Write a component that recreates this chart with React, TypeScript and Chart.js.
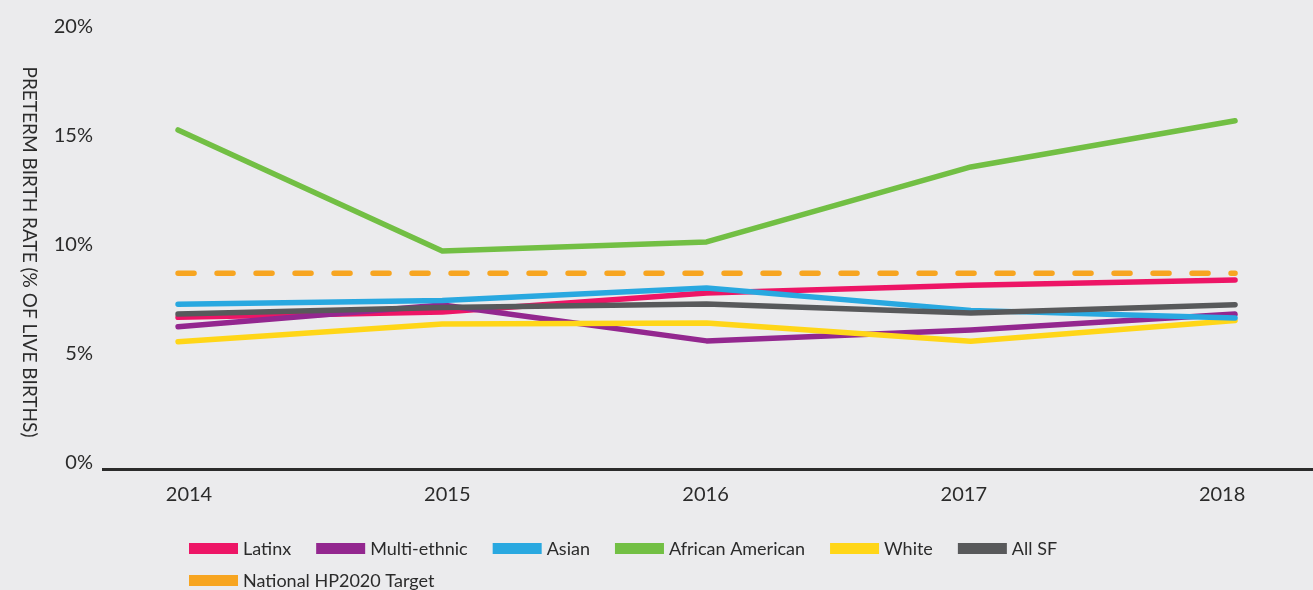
import React, { useEffect, useRef } from "react";
import { Chart, registerables } from "chart.js";

Chart.register(...registerables);

const years = [2014, 2015, 2016, 2017, 2018];
const latinx = [6.68, 6.93, 7.8, 8.15, 8.39];
const multiEthnic = [6.25, 7.25, 5.6, 6.1, 6.83];
const asian = [7.28, 7.45, 8.03, 7.0, 6.65];
const africanAmerican = [15.28, 9.72, 10.14, 13.58, 15.7];
const white = [5.56, 6.38, 6.42, 5.58, 6.54];
const allSF = [6.83, 7.13, 7.29, 6.88, 7.26];
const hp2020Target = [8.7, 8.7, 8.7, 8.7, 8.7];
const yTicks = [0, 5, 10, 15, 20];

const seriesNames = [
  "Latinx",
  "Multi-ethnic",
  "Asian",
  "African American",
  "White",
  "All SF",
  "National HP2020 Target",
];
const seriesValues = [latinx, multiEthnic, asian, africanAmerican, white, allSF, hp2020Target];
const seriesColors = ["#ed1566", "#93278f", "#29a8e0", "#72bf44", "#ffd618", "#58595b", "#f7a521"];
const seriesOrder = [6, 5, 3, 2, 4, 1, 7];
const yTitle = "PRETERM BIRTH RATE (% OF LIVE BIRTHS)";
const FONT = "Lato";
const TEXT_COLOR = "#2b2b2b";

const overlayPlugin = {
  id: "overlay",
  afterDraw(chart: any) {
    const ctx = chart.ctx as CanvasRenderingContext2D;
    ctx.save();
    // y axis title, reading top to bottom
    ctx.font = `19px ${FONT}`;
    ctx.fillStyle = TEXT_COLOR;
    ctx.textAlign = "center";
    ctx.textBaseline = "middle";
    ctx.translate(29, 252);
    ctx.rotate(Math.PI / 2);
    ctx.fillText(yTitle, 0, 0);
    ctx.restore();

    // legend
    ctx.save();
    ctx.font = `18px ${FONT}`;
    ctx.textBaseline = "middle";
    ctx.textAlign = "left";
    const startX = 189;
    let x = startX;
    let y = 548.5;
    const boxW = 49;
    const boxH = 11;
    const maxX = chart.width - 10;
    seriesNames.forEach((name, i) => {
      const w = boxW + 5 + ctx.measureText(name).width;
      if (x !== startX && x + w > maxX) {
        x = startX;
        y += 32;
      }
      ctx.fillStyle = seriesColors[i];
      ctx.fillRect(x, y - boxH / 2, boxW, boxH);
      ctx.fillStyle = TEXT_COLOR;
      ctx.fillText(name, x + boxW + 5, y + 1);
      x += w + 25;
    });
    ctx.restore();
  },
};

export default function App() {
  const canvasRef = useRef<HTMLCanvasElement | null>(null);

  useEffect(() => {
    document.body.style.margin = "0";
    document.body.style.background = "#ebebed";
    const canvas = canvasRef.current;
    if (!canvas) return;
    const datasets = seriesNames.map((name, i) => ({
      label: name,
      data: years.map((yr, j) => ({ x: yr, y: seriesValues[i][j] })),
      borderColor: seriesColors[i],
      backgroundColor: seriesColors[i],
      borderWidth: 5.5,
      borderCapStyle: "round" as const,
      borderJoinStyle: "round" as const,
      borderDash: i === 6 ? [16, 23] : [],
      pointRadius: 0,
      tension: 0,
      fill: false,
      order: seriesOrder[i],
      xAxisID: "x",
      yAxisID: "y",
    }));

    const chart = new Chart(canvas, {
      type: "line",
      data: { datasets },
      options: {
        animation: false,
        responsive: false,
        layout: { padding: { top: 27, left: 0, right: 0, bottom: 0 } },
        plugins: {
          legend: { display: false },
          tooltip: { enabled: false },
        },
        scales: {
          x: {
            type: "linear",
            position: "bottom",
            weight: 0,
            min: 2013.716,
            max: 2018.295,
            grid: { display: false, drawTicks: false },
            border: { display: true, color: "#2b2b2b", width: 3 },
            afterBuildTicks: (scale: any) => {
              scale.ticks = years.map((v) => ({ value: v }));
            },
            afterFit: (scale: any) => {
              scale.height = 0;
            },
            ticks: { display: false },
          },
          xLabels: {
            type: "linear",
            position: "bottom",
            weight: 1,
            min: 2013.667,
            max: 2018.352,
            grid: { display: false, drawTicks: false },
            border: { display: false },
            afterBuildTicks: (scale: any) => {
              scale.ticks = years.map((v) => ({ value: v }));
            },
            afterFit: (scale: any) => {
              scale.height = 120.5;
            },
            ticks: {
              padding: 13,
              color: TEXT_COLOR,
              font: { family: FONT, size: 20 },
              callback: (v: any) => String(v),
              maxRotation: 0,
            },
          },
          y: {
            type: "linear",
            min: -0.3,
            max: 20,
            grid: { display: false, drawTicks: false },
            border: { display: false },
            afterBuildTicks: (scale: any) => {
              scale.ticks = yTicks.map((v) => ({ value: v }));
            },
            afterFit: (scale: any) => {
              scale.width = 103;
            },
            ticks: {
              padding: 10,
              color: TEXT_COLOR,
              font: { family: FONT, size: 20 },
              callback: (v: any) => `${v}%`,
            },
          },
        },
      },
      plugins: [overlayPlugin],
    });
    return () => chart.destroy();
  }, []);

  return (
    <div style={{ width: 1313, height: 590, background: "#ebebed" }}>
      <canvas ref={canvasRef} width={1313} height={590} style={{ display: "block" }} />
    </div>
  );
}
